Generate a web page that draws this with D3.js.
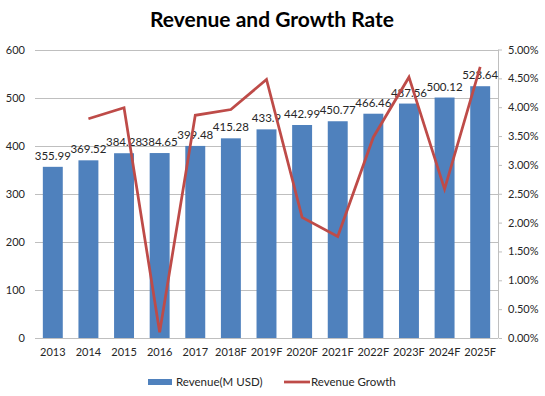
<!DOCTYPE html>
<html>
<head>
<meta charset="utf-8">
<script src="https://cdn.jsdelivr.net/npm/d3@7"></script>
<style>
  html, body { margin: 0; padding: 0; background: #fff; }
  svg { display: block; font-family: Lato, "Open Sans", sans-serif; }
</style>
</head>
<body>
<svg id="chart" width="545" height="396"></svg>
<script>
const categories = ["2013","2014","2015","2016","2017","2018F","2019F","2020F","2021F","2022F","2023F","2024F","2025F"];
const revenue = [355.99,369.52,384.28,384.65,399.48,415.28,433.9,442.99,450.77,466.46,487.56,500.12,523.64];
const growth = [null,3.80,3.99,0.10,3.86,3.96,4.48,2.09,1.76,3.48,4.52,2.58,4.70];
const leftTicks = [0,100,200,300,400,500,600];
const rightTicks = [0,0.5,1,1.5,2,2.5,3,3.5,4,4.5,5];
const titleText = "Revenue and Growth Rate";
const seriesNames = ["Revenue(M USD)", "Revenue Growth"];

const barColor = "#4F81BD";
const lineColor = "#BE4B48";
const gridColor = "#BFBFBF";
const textColor = "#262626";

const svg = d3.select("#chart");
const m = {left: 35, right: 498, top: 49.5, bottom: 338};

const x = d3.scaleBand().domain(categories).range([m.left, m.right]).paddingInner(0.44).paddingOuter(0.22);
const y = d3.scaleLinear().domain([0, 600]).range([m.bottom, m.top]);
const y2 = d3.scaleLinear().domain([0, 5]).range([m.bottom, m.top]);

// Title
svg.append("text").attr("x", 272).attr("y", 27).attr("text-anchor", "middle")
  .attr("font-size", 21).attr("font-weight", "bold").attr("fill", "#000")
  .text(titleText);

// Gridlines
svg.append("g").selectAll("line").data(leftTicks.filter(d => d > 0)).join("line")
  .attr("x1", m.left).attr("x2", m.right)
  .attr("y1", d => Math.round(y(d)) + 0.5).attr("y2", d => Math.round(y(d)) + 0.5)
  .attr("stroke", gridColor).attr("stroke-width", 1);

// Left axis
const leftAxis = svg.append("g").attr("transform", `translate(${m.left},0)`)
  .call(d3.axisLeft(y).tickValues(leftTicks).tickSize(0).tickPadding(10).tickFormat(d3.format("d")));
leftAxis.select(".domain").remove();
leftAxis.selectAll("text").attr("font-size", 11).attr("fill", textColor).attr("font-family", "Lato, sans-serif");

// Right axis
const rightAxis = svg.append("g").attr("transform", `translate(${m.right},0)`)
  .call(d3.axisRight(y2).tickValues(rightTicks).tickSize(4).tickPadding(6).tickFormat(d => d.toFixed(2) + "%"));
rightAxis.select(".domain").attr("stroke", gridColor).attr("d", `M0.5,${m.top}V${m.bottom}`);
rightAxis.selectAll(".tick line").attr("stroke", gridColor).attr("x1", 0.5);
rightAxis.selectAll("text").attr("font-size", 11).attr("fill", textColor).attr("font-family", "Lato, sans-serif");

// Bars
svg.append("g").selectAll("rect").data(revenue).join("rect")
  .attr("x", (d, i) => x(categories[i]))
  .attr("width", x.bandwidth())
  .attr("y", d => y(d))
  .attr("height", d => y(0) - y(d))
  .attr("fill", barColor);

// Bottom axis
const bottomAxis = svg.append("g").attr("transform", `translate(0,${Math.round(m.bottom) + 0.5})`)
  .call(d3.axisBottom(x).tickSize(0).tickPadding(10));
bottomAxis.select(".domain").attr("stroke", gridColor).attr("d", `M${m.left},0H${m.right}`);
bottomAxis.selectAll("text").attr("font-size", 11).attr("fill", textColor).attr("font-family", "Lato, sans-serif");

// Data labels
svg.append("g").selectAll("text").data(revenue).join("text")
  .attr("x", (d, i) => x(categories[i]) + x.bandwidth() / 2)
  .attr("y", d => y(d) - 7)
  .attr("text-anchor", "middle")
  .attr("font-size", 11.5).attr("fill", textColor)
  .text(d => d);

// Growth line
const line = d3.line()
  .defined(d => d.g !== null)
  .x(d => x(d.c) + x.bandwidth() / 2)
  .y(d => y2(d.g));
svg.append("path")
  .datum(categories.map((c, i) => ({c, g: growth[i]})))
  .attr("d", line)
  .attr("fill", "none").attr("stroke", lineColor).attr("stroke-width", 2.75)
  .attr("stroke-linejoin", "miter");

// Legend
const lg = svg.append("g");
lg.append("rect").attr("x", 148).attr("y", 379).attr("width", 24).attr("height", 6).attr("fill", barColor);
lg.append("text").attr("x", 176).attr("y", 386).attr("font-size", 11.5).attr("fill", textColor).text(seriesNames[0]);
lg.append("line").attr("x1", 284).attr("x2", 310).attr("y1", 382).attr("y2", 382)
  .attr("stroke", lineColor).attr("stroke-width", 2.75);
lg.append("text").attr("x", 311).attr("y", 386).attr("font-size", 11.5).attr("fill", textColor).text(seriesNames[1]);
</script>
</body>
</html>
